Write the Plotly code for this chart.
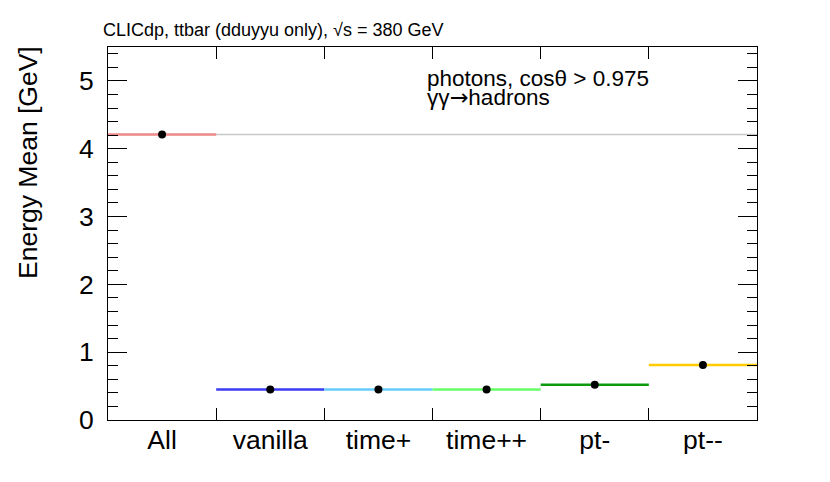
import plotly.graph_objects as go

categories = ["All", "vanilla", "time+", "time++", "pt-", "pt--"]
energy_mean = [4.21, 0.45, 0.45, 0.45, 0.52, 0.81]
line_colors = ["#f08a8a", "#3b3bf5", "#66ccff", "#66ff66", "#0f990f", "#ffcc00"]

title_text = "CLICdp, ttbar (dduyyu only), √s = 380 GeV"
label_line1 = "photons, cosθ > 0.975"
label_line2 = "γγ<span style=\"font-family:'DejaVu Sans'\">→</span>hadrons"
y_title = "Energy Mean [GeV]"

OFF = 8  # page body margin
W, H = 830 - OFF, 482 - OFF
L, R, T, B = 108 - OFF, 73, 47 - OFF, 62
pw, ph = W - L - R, H - T - B


def px(xs):  # screen x -> paper
    return (xs - OFF - L) / pw


def py(ys):  # screen y -> paper
    return (H - B - (ys - OFF)) / ph


fig = go.Figure()
n = len(categories)
fig.add_trace(go.Scatter(x=[0, n], y=[energy_mean[0], energy_mean[0]], mode="lines",
                         line=dict(color="#c8c8c8", width=1.5), showlegend=False, hoverinfo="skip"))
for i, (v, c) in enumerate(zip(energy_mean, line_colors)):
    fig.add_trace(go.Scatter(x=[i, i + 1], y=[v, v], mode="lines",
                             line=dict(color=c, width=2.5), showlegend=False))
fig.add_trace(go.Scatter(x=[i + 0.5 for i in range(n)], y=energy_mean, mode="markers",
                         marker=dict(color="black", size=8), showlegend=False))
fig.add_trace(go.Scatter(x=[i + 0.5 for i in range(n)], y=energy_mean, xaxis="x2", mode="markers",
                         marker=dict(opacity=0), showlegend=False, hoverinfo="skip"))

font = "Liberation Sans, Arial, Helvetica, sans-serif"
fig.update_layout(
    width=W, height=H,
    margin=dict(l=L, r=R, t=T, b=B, pad=0),
    paper_bgcolor="white", plot_bgcolor="white",
    font=dict(family=font, color="black"),
    xaxis=dict(range=[0, n], tickvals=list(range(n + 1)), ticktext=[""] * (n + 1),
               ticks="inside", ticklen=12, tickwidth=1, tickcolor="black",
               showline=True, linecolor="black", linewidth=1, mirror="ticks",
               showgrid=False, zeroline=False),
    xaxis2=dict(range=[0, n], overlaying="x", side="bottom", anchor="y",
                tickvals=[i + 0.5 for i in range(n)], ticktext=categories,
                ticks="", showline=False, showgrid=False, zeroline=False,
                tickfont=dict(size=26.5, family=font, color="black"), ticklabelstandoff=1),
    yaxis=dict(range=[0, 5.5], tickvals=[0, 1, 2, 3, 4, 5], ticks="inside", ticklen=19,
               tickwidth=1, tickcolor="black", showline=True, linecolor="black", linewidth=1,
               mirror="ticks", showgrid=False, zeroline=False,
               tickfont=dict(size=26.5, family=font, color="black"), ticklabelstandoff=8,
               minor=dict(dtick=0.2, tick0=0, ticks="inside", ticklen=10, tickcolor="black",
                          tickwidth=1, showgrid=False)),
)

fig.add_annotation(text=y_title, xref="paper", yref="paper", x=px(28), y=py(163),
                   xanchor="center", yanchor="middle", textangle=-90, showarrow=False,
                   font=dict(size=26.5, family=font, color="black"))
fig.add_annotation(text=title_text, xref="paper", yref="paper", x=px(101), y=py(42),
                   xanchor="left", yanchor="bottom", showarrow=False,
                   font=dict(size=18, family=font, color="black"))
fig.add_annotation(text=label_line1, xref="paper", yref="paper", x=px(425), y=py(93),
                   xanchor="left", yanchor="bottom", showarrow=False,
                   font=dict(size=22.5, family=font, color="black"))
fig.add_annotation(text=label_line2, xref="paper", yref="paper", x=px(425), y=py(112),
                   xanchor="left", yanchor="bottom", showarrow=False,
                   font=dict(size=22.5, family=font, color="black"))

fig.write_html("out.html")
